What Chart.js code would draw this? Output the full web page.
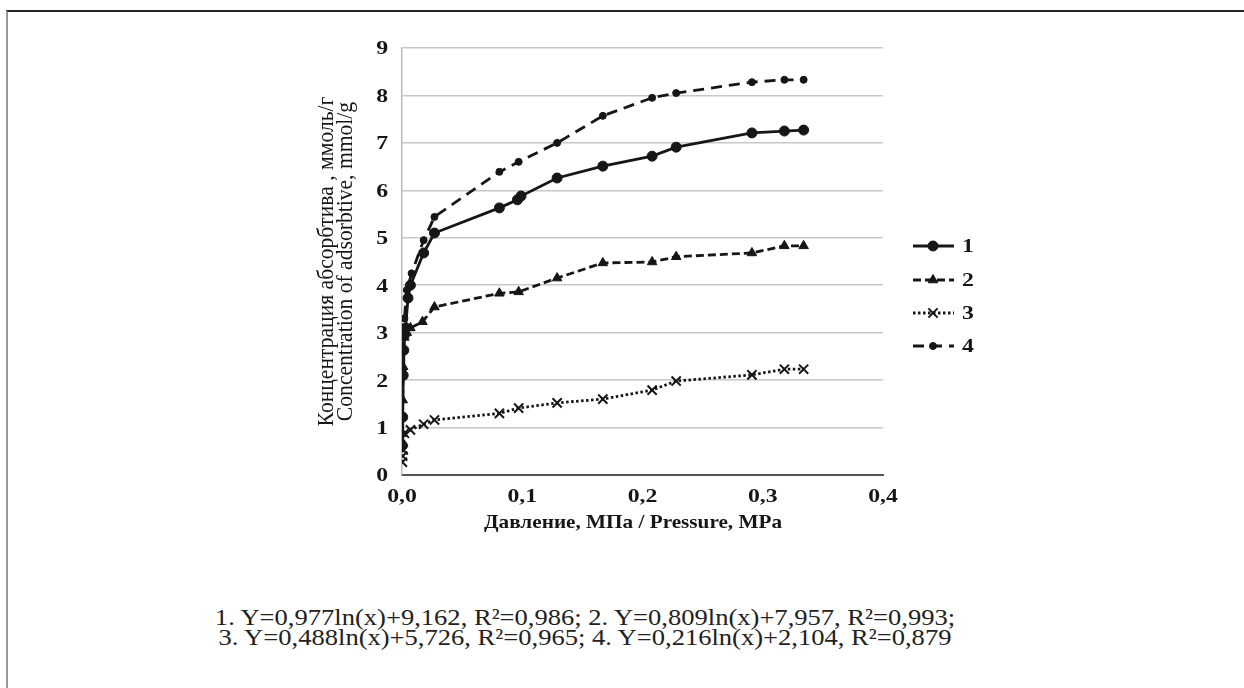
<!DOCTYPE html>
<html>
<head>
<meta charset="utf-8">
<script src="https://cdn.jsdelivr.net/npm/chart.js@4.4.0/dist/chart.umd.min.js"></script>
<style>
html,body{margin:0;padding:0;background:#fff;width:1244px;height:688px;overflow:hidden;}
#frame{position:absolute;left:6px;top:10px;width:1238px;height:678px;border-top:2px solid #222;border-left:2px solid #999;box-sizing:border-box;}
#c{position:absolute;left:0;top:0;}
.eq{position:absolute;left:585px;white-space:nowrap;font-family:"Liberation Serif",serif;font-size:23px;line-height:20px;color:#222;transform-origin:50% 50%;}
</style>
</head>
<body>
<div id="frame"></div>
<canvas id="c" width="1244" height="560"></canvas>
<div class="eq" id="eq1"></div>
<div class="eq" id="eq2"></div>
<script>
// ---- data ----
const x1 = [0.0003, 0.0006, 0.001, 0.0015, 0.002, 0.003, 0.005, 0.007, 0.018, 0.027, 0.081, 0.096, 0.099, 0.129, 0.167, 0.208, 0.228, 0.291, 0.318, 0.334];
const y1 = [0.62, 1.22, 2.1, 2.63, 2.95, 3.1, 3.73, 4.0, 4.68, 5.1, 5.63, 5.8, 5.88, 6.26, 6.51, 6.72, 6.91, 7.21, 7.25, 7.27];
const x2 = [0.0003, 0.0006, 0.001, 0.002, 0.004, 0.007, 0.017, 0.027, 0.081, 0.097, 0.129, 0.167, 0.208, 0.228, 0.291, 0.318, 0.334];
const y2 = [0.88, 1.58, 2.28, 2.9, 3.0, 3.1, 3.23, 3.54, 3.83, 3.86, 4.15, 4.47, 4.49, 4.6, 4.68, 4.83, 4.83];
const x3 = [0.0003, 0.0006, 0.001, 0.002, 0.007, 0.018, 0.027, 0.081, 0.097, 0.129, 0.167, 0.208, 0.228, 0.291, 0.318, 0.334];
const y3 = [0.27, 0.4, 0.53, 0.88, 0.95, 1.07, 1.16, 1.3, 1.41, 1.52, 1.6, 1.79, 1.98, 2.11, 2.23, 2.23];
const x4 = [0.0005, 0.001, 0.002, 0.004, 0.008, 0.018, 0.027, 0.081, 0.097, 0.129, 0.167, 0.208, 0.228, 0.291, 0.318, 0.334];
const y4 = [2.2, 2.9, 3.3, 3.9, 4.25, 4.95, 5.44, 6.39, 6.6, 7.0, 7.57, 7.95, 8.05, 8.28, 8.33, 8.33];
const seriesLabels = ['1', '2', '3', '4'];
const xTickStep = 0.1, xMin = 0, xMax = 0.4;
const yTickStep = 1, yMin = 0, yMax = 9;
const xTitle = 'Давление, МПа / Pressure, MPa';
const yTitle = ['Концентрация абсорбтива , ммоль/г', 'Concentration of adsorbtive, mmol/g'];
const equations = ['1. Y=0,977ln(x)+9,162, R²=0,986; 2. Y=0,809ln(x)+7,957, R²=0,993;',
                   '3. Y=0,488ln(x)+5,726, R²=0,965; 4. Y=0,216ln(x)+2,104, R²=0,879'];

// ---- styles ----
const INK = '#161616';
const styles = [
  {dash: [], point: 'circle', r: 5, pbw: 1},
  {dash: [8, 4], point: 'triangle', r: 5.5, pbw: 1},
  {dash: [2.5, 2.5], point: 'crossRot', r: 6.5, pbw: 2},
  {dash: [11, 7], point: 'circle', r: 3.5, pbw: 1}
];
const xs = [x1, x2, x3, x4], ys = [y1, y2, y3, y4];
const fmtX = v => v.toFixed(1).replace('.', ',');

const datasets = xs.map((xa, i) => ({
  label: seriesLabels[i],
  data: xa.map((x, k) => ({x: x, y: ys[i][k]})),
  showLine: true,
  tension: 0,
  borderColor: INK,
  backgroundColor: INK,
  borderWidth: 2.8,
  borderDash: styles[i].dash,
  pointStyle: styles[i].point,
  pointRadius: styles[i].r,
  pointBorderWidth: styles[i].pbw,
  pointBackgroundColor: INK,
  pointBorderColor: INK
}));

const SX = 1.25;
function sText(ctx, text, x, y, align, font, sx) {
  ctx.save();
  ctx.font = font; ctx.textAlign = align; ctx.textBaseline = 'middle'; ctx.fillStyle = INK;
  ctx.translate(x, y); ctx.scale(sx || SX, 1); ctx.fillText(text, 0, 0);
  ctx.restore();
}
function legendPoint(ctx, st, x, y) {
  if (Chart.helpers && Chart.helpers.drawPoint) {
    ctx.fillStyle = INK; ctx.strokeStyle = INK; ctx.lineWidth = st.pbw; ctx.setLineDash([]);
    Chart.helpers.drawPoint(ctx, {pointStyle: st.point, rotation: 0, radius: st.r, borderWidth: st.pbw}, x, y);
  }
}

const textPlugin = {
  id: 'texts',
  afterDraw(chart) {
    const ctx = chart.ctx;
    const xs_ = chart.scales.x, ys_ = chart.scales.y;
    const tf = 'bold 19px "Liberation Serif"';
    ys_.ticks.forEach(t => sText(ctx, String(t.value), 388, ys_.getPixelForValue(t.value) + 1.5, 'right', tf));
    xs_.ticks.forEach(t => sText(ctx, fmtX(t.value), xs_.getPixelForValue(t.value), 497, 'center', tf));
    // x title
    ctx.save(); ctx.font = 'bold 19px "Liberation Serif"';
    const wx = ctx.measureText(xTitle).width; ctx.restore();
    sText(ctx, xTitle, 633, 523, 'center', 'bold 19px "Liberation Serif"', 298 / wx);
    // y title
    ctx.save(); ctx.font = '20px "Liberation Serif"';
    const wy = ctx.measureText(yTitle[0]).width; ctx.restore();
    const fy = 20 * 330 / wy;
    const cy = (ys_.top + ys_.bottom) / 2;
    [327, 346].forEach((cx, i) => {
      ctx.save();
      ctx.font = fy.toFixed(2) + 'px "Liberation Serif"'; ctx.textAlign = 'center'; ctx.textBaseline = 'middle'; ctx.fillStyle = INK;
      ctx.translate(cx, cy); ctx.scale(1.05, 1); ctx.rotate(-Math.PI / 2);
      ctx.fillText(yTitle[i], 0, 0);
      ctx.restore();
    });
    // legend
    const ly = [246, 280, 313, 346];
    seriesLabels.forEach((lab, i) => {
      const st = styles[i];
      ctx.save();
      ctx.strokeStyle = INK; ctx.lineWidth = 2.8; ctx.setLineDash(st.dash);
      ctx.beginPath(); ctx.moveTo(913, ly[i]); ctx.lineTo(954, ly[i]); ctx.stroke();
      legendPoint(ctx, st, 933, ly[i]);
      ctx.restore();
      sText(ctx, lab, 962, ly[i] + 1, 'left', tf);
    });
  }
};

new Chart(document.getElementById('c'), {
  type: 'scatter',
  data: {datasets: datasets},
  options: {
    responsive: false,
    animation: false,
    layout: {padding: {left: 300, right: 361, top: 48, bottom: 25}},
    plugins: {legend: {display: false}, tooltip: {enabled: false}},
    scales: {
      x: {
        type: 'linear', min: xMin, max: xMax,
        ticks: {stepSize: xTickStep, display: false, callback: v => fmtX(v)},
        grid: {display: false},
        border: {display: true, color: '#555', width: 2},
        afterFit: s => { s.height = 60; }
      },
      y: {
        type: 'linear', min: yMin, max: yMax,
        ticks: {stepSize: yTickStep, display: false},
        grid: {color: '#c8c8c8', lineWidth: 1.5, drawTicks: false},
        border: {display: true, color: '#bbb', width: 1.5},
        afterFit: s => { s.width = 102; }
      }
    }
  },
  plugins: [textPlugin]
});

// equations
const eqCenters = [618, 637.5];
const el1 = document.getElementById('eq1');
el1.textContent = equations[0];
const eqScale = 740 / el1.offsetWidth;
['eq1', 'eq2'].forEach((id, i) => {
  const el = document.getElementById(id);
  el.textContent = equations[i];
  el.style.top = (eqCenters[i] - 10) + 'px';
  el.style.transform = 'translateX(-50%) scaleX(' + eqScale.toFixed(4) + ')';
});
</script>
</body>
</html>
